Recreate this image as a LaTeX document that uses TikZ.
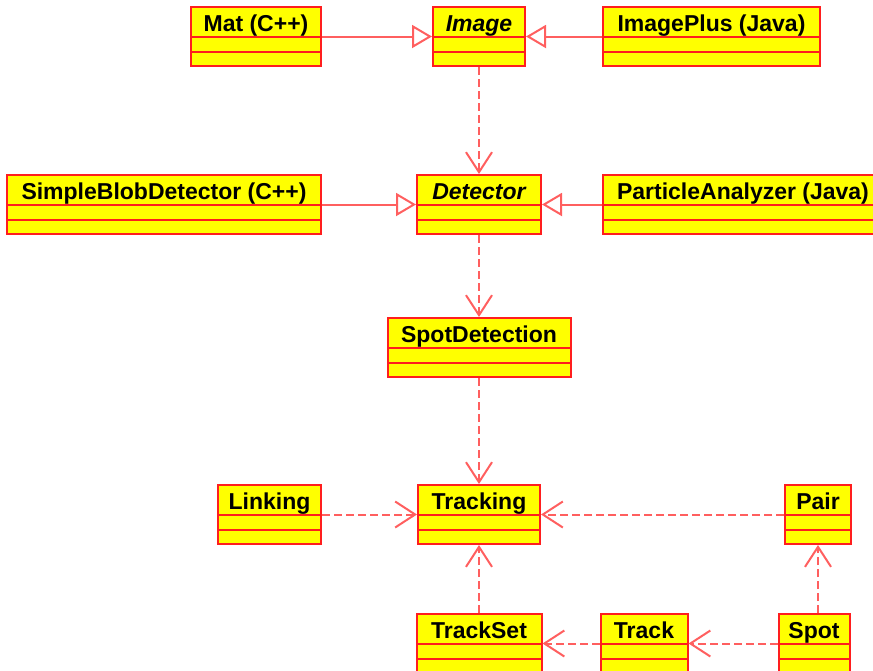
\documentclass[tikz,border=0pt]{standalone}
\usepackage{fontspec}
\setmainfont{Liberation Sans}
\usetikzlibrary{positioning}
\usetikzlibrary{arrows.meta}

\definecolor{classred}{RGB}{255,30,30}
\definecolor{classyellow}{RGB}{255,255,0}
\definecolor{linkred}{RGB}{255,95,95}

\tikzset{
   umlclass/.style={draw=classred, fill=classyellow, line width=2pt,
      inner sep=0pt, text height=24pt, text depth=35pt,
      font=\fontsize{23}{23}\selectfont\bfseries,
      path picture={
         \draw[classred, line width=2pt]
         ([yshift=-30pt]path picture bounding box.north west) --
         ([yshift=-30pt]path picture bounding box.north east)
         ([yshift=-45pt]path picture bounding box.north west) --
         ([yshift=-45pt]path picture bounding box.north east);
      }},
   abstract/.style={umlclass, font=\fontsize{23}{23}\selectfont\bfseries\itshape},
   inherits/.style={draw=linkred, line width=2pt,
      -{Triangle[length=20pt,width=23pt,fill=white]}},
   depends/.style={draw=linkred, line width=2pt, dash pattern=on 8pt off 4pt,
      -{Straight Barb[length=20pt,width=26pt]}},
}

\begin{document}
\begin{tikzpicture}[x=1pt, y=-1pt]
   \useasboundingbox (0,0) rectangle (873,670);

   % image classes
   \node[abstract, minimum width=92pt] (image) at (479,36.5) {Image};
   \node[umlclass, minimum width=130pt, left=110pt of image]  (mat) {Mat (C++)};
   \node[umlclass, minimum width=217pt, right=76pt of image] (imgplus) {ImagePlus (Java)};

   % detectors
   \node[abstract, minimum width=124pt, below=107pt of image]  (detector) {Detector};
   \node[umlclass, minimum width=314pt, left=94pt of detector] (blob) {SimpleBlobDetector (C++)};
   \node[umlclass, minimum width=280pt, right=60pt of detector] (particle) {ParticleAnalyzer (Java)};

   \node[umlclass, minimum width=183pt, below=82pt of detector] (spotdet) {SpotDetection};

   % tracking part
   \node[umlclass, minimum width=122pt, below=106pt of spotdet]  (tracking) {Tracking};
   \node[umlclass, minimum width=103pt, left=95pt of tracking]   (linking) {Linking};
   \node[umlclass, minimum width=66pt, right=243pt of tracking]  (pair) {Pair};

   \node[umlclass, minimum width=125pt, below=68pt of tracking] (trackset) {TrackSet};
   \node[umlclass, minimum width=87pt, right=57pt of trackset]  (track) {Track};
   \node[umlclass, minimum width=71pt, right=89pt of track]     (spot) {Spot};

   % generalizations
   \draw[inherits] (mat) -- (image);
   \draw[inherits] (imgplus) -- (image);
   \draw[inherits] (blob) -- (detector);
   \draw[inherits] (particle) -- (detector);

   % dependencies
   \draw[depends] (image) -- (detector);
   \draw[depends] (detector) -- (spotdet);
   \draw[depends] (spotdet) -- (tracking);
   \draw[depends] (linking) -- (tracking);
   \draw[depends] (pair) -- (tracking);
   \draw[depends] (trackset) -- (tracking);
   \draw[depends] (track) -- (trackset);
   \draw[depends] (spot) -- (track);
   \draw[depends] (spot.north -| pair.south) -- (pair.south);
\end{tikzpicture}
\end{document}
